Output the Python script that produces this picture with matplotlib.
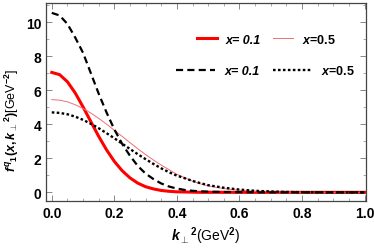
import matplotlib
matplotlib.use("Agg")
import matplotlib.pyplot as plt
from matplotlib.ticker import MultipleLocator, FormatStrFormatter

plt.rcParams['font.family'] = ['Liberation Sans', 'DejaVu Sans']
plt.rcParams['font.weight'] = 'bold'
plt.rcParams['mathtext.fontset'] = 'custom'
plt.rcParams['mathtext.rm'] = 'Liberation Sans:bold'
plt.rcParams['mathtext.bf'] = 'Liberation Sans:bold'
plt.rcParams['mathtext.it'] = 'Liberation Sans:bold:italic'
plt.rcParams['mathtext.fallback'] = 'cm'

# k_perp^2 values (GeV^2)
k2 = [0.0, 0.025, 0.05, 0.075, 0.1, 0.125, 0.15, 0.175, 0.2, 0.225,
      0.25, 0.275, 0.3, 0.325, 0.35, 0.375, 0.4, 0.425, 0.45, 0.475,
      0.5, 0.55, 0.6, 0.65, 0.7, 0.75, 0.8, 0.9, 1.0]

# thick red, x = 0.1
red_x01 = [7.05, 6.92, 6.50, 5.84, 5.02, 4.15, 3.29, 2.50, 1.82, 1.27,
           0.85, 0.54, 0.33, 0.20, 0.11, 0.06, 0.03, 0.02, 0.01, 0.0,
           0.0, 0.0, 0.0, 0.0, 0.0, 0.0, 0.0, 0.0, 0.0]
# thin red, x = 0.5
red_x05 = [5.45, 5.42, 5.32, 5.15, 4.93, 4.66, 4.35, 4.01, 3.65, 3.29,
           2.92, 2.56, 2.22, 1.90, 1.60, 1.33, 1.06, 0.86, 0.66, 0.50,
           0.38, 0.22, 0.12, 0.06, 0.03, 0.02, 0.01, 0.0, 0.0]
# black dashed, x = 0.1
blk_x01 = [10.55, 10.40, 9.90, 9.10, 8.20, 7.00, 5.80, 4.70, 3.70, 2.85,
           2.15, 1.55, 1.10, 0.78, 0.52, 0.34, 0.22, 0.14, 0.09, 0.06,
           0.04, 0.02, 0.01, 0.0, 0.0, 0.0, 0.0, 0.0, 0.0]
# black dotted, x = 0.5
blk_x05 = [4.70, 4.67, 4.59, 4.45, 4.26, 4.03, 3.77, 3.48, 3.18, 2.86,
           2.55, 2.24, 1.95, 1.67, 1.41, 1.18, 0.98, 0.83, 0.67, 0.54,
           0.42, 0.27, 0.16, 0.09, 0.05, 0.02, 0.01, 0.0, 0.0]

fig = plt.figure(figsize=(3.74, 2.51), dpi=100)
ax = fig.add_axes([0.1217, 0.1952, 0.8556, 0.7888])

l1, = ax.plot(k2, red_x01, color='#ff0000', lw=2.2, label='x= 0.1')
l2, = ax.plot(k2, red_x05, color='#f07070', lw=0.7, label=r'$x$=0.5')
l3, = ax.plot(k2, blk_x01, color='black', lw=1.6, ls=(0, (3.2, 1.9)),
              label='x= 0.1')
l4, = ax.plot(k2, blk_x05, color='black', lw=1.7, ls=(0, (1.1, 1.0)),
              label=r'$x$=0.5')

ax.set_xlim(-0.02, 1.003)
ax.set_ylim(-0.51, 11.13)
ax.xaxis.set_major_locator(MultipleLocator(0.2))
ax.xaxis.set_minor_locator(MultipleLocator(0.05))
ax.yaxis.set_major_locator(MultipleLocator(2))
ax.yaxis.set_minor_locator(MultipleLocator(1))
ax.xaxis.set_major_formatter(FormatStrFormatter('%.1f'))

ax.tick_params(which='both', direction='in', top=True, right=True,
               color='#888888', labelsize=10)
ax.tick_params(which='major', length=4, width=0.7)
ax.tick_params(which='minor', length=2, width=0.5)
ax.tick_params(axis='x', pad=3.5)
ax.tick_params(axis='y', pad=3)
for s in ax.spines.values():
    s.set_color('#444444')
    s.set_linewidth(0.9)

ax.set_xlabel(r'$k_{\bot}{}^{2}$(GeV$^{2}$)', fontsize=10)
ax.set_ylabel(r'$f^{q}{}_{1}(x,k_{\bot}{}^{2})$[GeV$^{-2}$]', fontsize=9)
ax.xaxis.set_label_coords(0.5, -0.12)
ax.yaxis.set_label_coords(-0.078, 0.414)

leg1 = ax.legend(handles=[l1, l2], ncol=2, loc='center left',
                 bbox_to_anchor=(0.473, 0.818), frameon=False, fontsize=9,
                 handlelength=1.6, handletextpad=0.7, columnspacing=1.0,
                 borderpad=0, borderaxespad=0)
leg1.get_texts()[0].set_fontstyle('italic')
ax.add_artist(leg1)
leg2 = ax.legend(handles=[l3, l4], ncol=2, loc='center left',
                 bbox_to_anchor=(0.408, 0.657), frameon=False, fontsize=9,
                 handlelength=3.15, handletextpad=0.75, columnspacing=1.0,
                 borderpad=0, borderaxespad=0)
leg2.get_texts()[0].set_fontstyle('italic')

fig.savefig('out.png', dpi=100)
